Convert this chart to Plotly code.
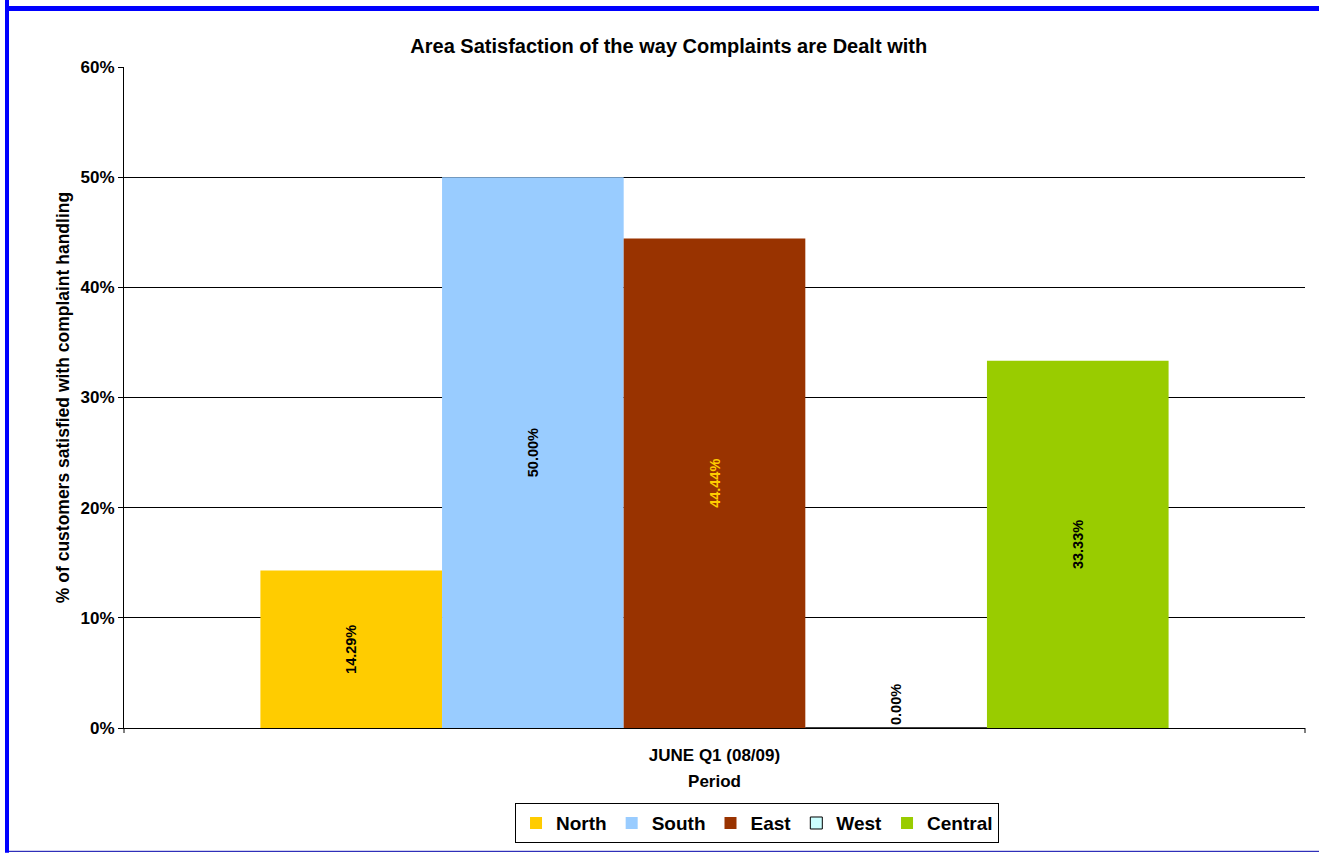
import plotly.graph_objects as go

# Survey results per area
areas = ["North", "South", "East", "West", "Central"]
satisfied = [0.1429, 0.5000, 0.4444, 0.0000, 0.3333]
period = ["JUNE Q1 (08/09)"]
colors = ["#FFCC00", "#99CCFF", "#993300", "#CCFFFF", "#99CC00"]
label_colors = ["#000000", "#000000", "#FFCC00", "#000000", "#000000"]
y_ticks = [0, 0.1, 0.2, 0.3, 0.4, 0.5, 0.6]

FONT = "Liberation Sans, Arial, sans-serif"


def bold(size, color="#000000"):
    return dict(family=FONT, size=size, color=color, weight="bold")


fig = go.Figure()
for name, val, col, lcol in zip(areas, satisfied, colors, label_colors):
    fig.add_trace(go.Bar(
        name=name,
        x=period,
        y=[val],
        marker=dict(color=col,
                    line=dict(color="#000000" if name == "West" else col,
                              width=1 if name == "West" else 0)),
        texttemplate="%{y:.2%}",
        textposition="outside" if val == 0 else "inside",
        insidetextanchor="middle",
        textangle=-90,
        cliponaxis=False,
        constraintext="none",
        textfont=bold(14.5, lcol),
        insidetextfont=bold(14.5, lcol),
        outsidetextfont=bold(14.5, lcol),
    ))

fig.update_layout(
    width=1319, height=854,
    margin=dict(l=124, r=14, t=67, b=125),
    paper_bgcolor="white",
    plot_bgcolor="white",
    barmode="group",
    bargap=0.231,
    bargroupgap=0,
    font=dict(family=FONT, color="#000000"),
    title=dict(
        text="Area Satisfaction of the way Complaints are Dealt with",
        x=0.507, xanchor="center", xref="container",
        y=1 - 46 / 854, yanchor="middle",
        font=bold(20),
    ),
    xaxis=dict(
        showline=True, linecolor="#000000", linewidth=1,
        ticks="", showgrid=False,
        tickfont=bold(17),
        ticklabelstandoff=12,
        title=dict(text="Period", standoff=10, font=bold(17)),
    ),
    yaxis=dict(
        range=[0, 0.6],
        tickvals=y_ticks,
        tickformat=".0%",
        ticks="outside", ticklen=5, tickcolor="#000000",
        showline=True, linecolor="#000000", linewidth=1,
        showgrid=True, gridcolor="#000000", gridwidth=1,
        zeroline=False,
        tickfont=bold(17),
        title=dict(text="% of customers satisfied with complaint handling",
                   standoff=6, font=bold(17.5)),
    ),
    legend=dict(
        orientation="h",
        x=0.536, xanchor="center",
        y=-0.112, yanchor="top",
        bordercolor="#000000", borderwidth=1,
        bgcolor="white",
        font=bold(19),
        itemclick=False,
        itemwidth=30,
        tracegroupgap=0,
    ),
    shapes=[
        # frame around the page
        dict(type="rect", xref="paper", yref="paper",
             x0=(5 - 124) / 1181, x1=(9 - 124) / 1181,
             y0=(729 - 854) / 662, y1=(729 - 0) / 662,
             fillcolor="#0000FF", line=dict(width=0), layer="above"),
        dict(type="rect", xref="paper", yref="paper",
             x0=(5 - 124) / 1181, x1=(1319 - 124) / 1181,
             y0=(729 - 11) / 662, y1=(729 - 6) / 662,
             fillcolor="#0000FF", line=dict(width=0), layer="above"),
        dict(type="line", xref="paper", yref="paper",
             x0=(9 - 124) / 1181, x1=(1319 - 124) / 1181,
             y0=(729 - 852.5) / 662, y1=(729 - 852.5) / 662,
             line=dict(color="#0000AA", width=1), layer="above"),
        # category boundary ticks on the x axis
        dict(type="line", xref="paper", yref="paper", ysizemode="pixel",
             yanchor=0, x0=0, x1=0, y0=0, y1=-5,
             line=dict(color="#000000", width=1)),
        dict(type="line", xref="paper", yref="paper", ysizemode="pixel",
             yanchor=0, x0=1, x1=1, y0=0, y1=-5,
             line=dict(color="#000000", width=1)),
    ],
)

fig.write_html("out.html")
